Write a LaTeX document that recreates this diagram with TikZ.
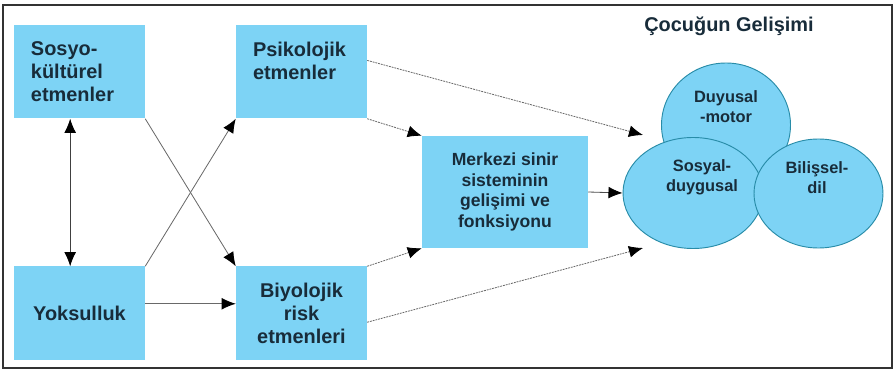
\documentclass[tikz,border=0pt]{standalone}
\usepackage{fontspec}
\setmainfont{Liberation Sans}
\usetikzlibrary{shapes.geometric,arrows.meta}
\definecolor{boxblue}{RGB}{125,211,245}
\definecolor{ringteal}{RGB}{40,140,168}
\definecolor{inkblue}{RGB}{24,44,58}
\definecolor{linegray}{RGB}{105,105,105}
\begin{document}
\begin{tikzpicture}[x=0.03cm, y=-0.03cm]
\tikzstyle{factor}=[rectangle, fill=boxblue, minimum width=3.93cm, minimum height=2.79cm, inner sep=0pt, text=inkblue, font=\fontsize{17}{19.6}\selectfont\bfseries]
\tikzstyle{area}=[ellipse, fill=boxblue, draw=ringteal, line width=0.8pt, inner sep=0pt]
\tikzstyle{areatext}=[align=center, text=inkblue, font=\fontsize{14}{17}\selectfont\bfseries]
\tikzstyle{link}=[draw=linegray, line width=0.7pt, -{Latex[length=12pt,width=10pt,black]}]
\tikzstyle{dlink}=[link, dash pattern=on 1.6pt off 0.8pt]
\useasboundingbox (0,0) rectangle (895,372);
\draw[line width=1.8pt, draw=black!80] (3,5) rectangle (892,368);
% left and middle columns
\node[factor, align=left, text width=2.91cm] (sosyo) at (79.5,72) {Sosyo-\\kültürel\\etmenler};
\node[factor, align=left, text width=2.91cm] (psiko) at (301.5,72) {Psikolojik\\etmenler\\\mbox{}};
\node[factor, align=center] (yoks) at (79.5,313) {Yoksulluk};
\node[factor, align=center] (biyo) at (301.5,313) {Biyolojik\\risk\\etmenleri};
\node[factor, align=center, minimum width=4.98cm, minimum height=3.36cm, font=\fontsize{15}{17.6}\selectfont\bfseries] (merkezi) at (505,192) {Merkezi sinir\\sisteminin\\gelişimi ve\\fonksiyonu};
% development areas
\node[text=inkblue, font=\fontsize{17}{19}\selectfont\bfseries] (title) at (729,26) {Çocuğun Gelişimi};
\node[area, minimum width=3.87cm, minimum height=3.72cm] (duyusal) at (726,125) {};
\node[area, minimum width=4.2cm, minimum height=3.33cm] (sosyal) at (693,193) {};
\node[area, minimum width=3.87cm, minimum height=3.27cm] (bilissel) at (818.5,193.5) {};
\node[areatext] (duyusaltext) at (726,107) {Duyusal\\-motor};
\node[areatext] (sosyaltext) at (702,177.5) {Sosyal-\\duygusal};
\node[areatext] (bilisseltext) at (817,177.5) {Bilişsel-\\dil};
\coordinate (uptip) at (643,135);
\coordinate (downtip) at (643,248);
\draw[link, draw=black!75, {Latex[length=12pt,width=10pt,black]}-{Latex[length=12pt,width=10pt,black]}] ([xshift=-0.28cm]sosyo.south) -- ([xshift=-0.28cm]yoks.north);
\draw[link] (sosyo.south east) -- (biyo.north west);
\draw[link] (yoks.north east) -- (psiko.south west);
\draw[link] (yoks.8) -- (yoks.8 -| biyo.west);
\draw[dlink] (psiko.10) -- (uptip);
\draw[dlink] (psiko.south east) -- (merkezi.north west);
\draw[dlink] (biyo.north east) -- (merkezi.south west);
\draw[dlink] (biyo.-8) -- (downtip);
\draw[link, draw=black!70] (merkezi.east) -- (sosyal.west);
\end{tikzpicture}
\end{document}
